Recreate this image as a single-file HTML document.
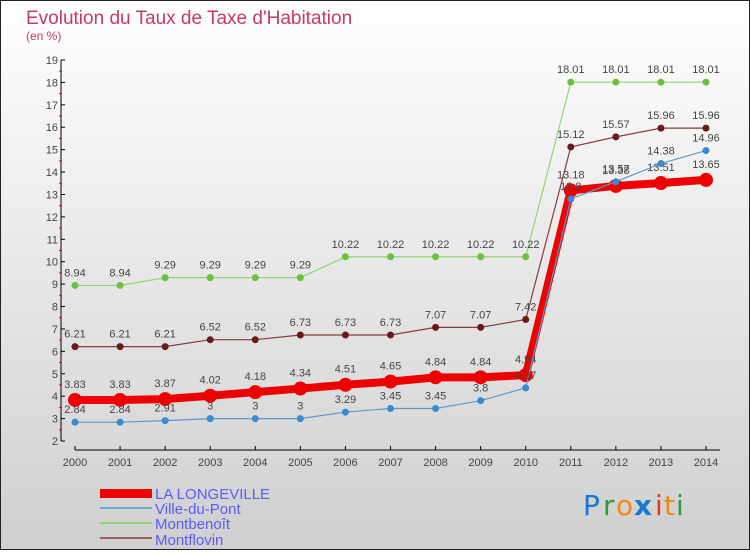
<!DOCTYPE html>
<html><head><meta charset="utf-8"><style>
body{margin:0;}
#c{width:750px;height:550px;position:relative;font-family:"Liberation Sans",sans-serif;}
</style></head><body>
<div id="c">
<svg id="s" width="750" height="550" xmlns="http://www.w3.org/2000/svg" font-family="Liberation Sans, sans-serif">
<defs><linearGradient id="bg" x1="0" y1="0" x2="0" y2="1"><stop offset="0" stop-color="#ffffff"/><stop offset="1" stop-color="#cfcfcf"/></linearGradient></defs>
<rect x="0.5" y="0.5" width="749" height="549" fill="url(#bg)" stroke="#222"/>
<text x="26" y="24" font-size="19" fill="#c8386a">Evolution du Taux de Taxe d'Habitation</text>
<text x="26" y="40" font-size="12" fill="#c8386a">(en %)</text>
<g id="axes"></g><g id="series"></g>
<g>
<rect x="100" y="489" width="52" height="9" fill="#ee0000"/>
<text x="155" y="499" font-size="15" fill="#5a5aff">LA LONGEVILLE</text>
<rect x="100" y="507" width="52" height="2" fill="#6da6d4"/>
<text x="155" y="514" font-size="15" fill="#5a5aff">Ville-du-Pont</text>
<rect x="100" y="522" width="52" height="2" fill="#8fd870"/>
<text x="155" y="529" font-size="15" fill="#5a5aff">Montbenoît</text>
<rect x="100" y="537" width="52" height="2" fill="#9a6060"/>
<text x="155" y="545" font-size="15" fill="#5a5aff">Montflovin</text>
</g>
<g font-size="28" font-family="DejaVu Sans, sans-serif">
<text x="583" y="515" fill="#1a78d0">P</text><text x="603" y="515" fill="#2a9a3a">r</text><text x="616" y="515" fill="#f08a10">o</text><text x="634" y="515" fill="#1a78d0" font-weight="bold">x</text><text x="655" y="515" fill="#e03a10">i</text><text x="664" y="515" fill="#f08a10">t</text><text x="676" y="515" fill="#2a9a3a">i</text>
</g>
</svg>
</div>
<script>
const years=[2000,2001,2002,2003,2004,2005,2006,2007,2008,2009,2010,2011,2012,2013,2014];
const yTicks=[2,3,4,5,6,7,8,9,10,11,12,13,14,15,16,17,18,19];
const laLongeville=[3.83,3.83,3.87,4.02,4.18,4.34,4.51,4.65,4.84,4.84,4.94,13.18,13.38,13.51,13.65];
const villeDuPont=[2.84,2.84,2.91,3,3,3,3.29,3.45,3.45,3.8,4.37,12.8,13.57,14.38,14.96];
const montbenoit=[8.94,8.94,9.29,9.29,9.29,9.29,10.22,10.22,10.22,10.22,10.22,18.01,18.01,18.01,18.01];
const montflovin=[6.21,6.21,6.21,6.52,6.52,6.73,6.73,6.73,7.07,7.07,7.42,15.12,15.57,15.96,15.96];
const NS="http://www.w3.org/2000/svg";
const X=i=>75+i*(631/14);
const Y=v=>441-(v-2)*(381/17);
function mk(tag,attrs,parent){const e=document.createElementNS(NS,tag);for(const k in attrs)e.setAttribute(k,attrs[k]);parent.appendChild(e);return e;}
const ax=document.getElementById('axes');
let yl=mk('line',{x1:61,y1:Y(19),x2:61,y2:Y(2),stroke:'#000'},ax);


yTicks.forEach(t=>{
 mk('line',{x1:61,x2:65,y1:Y(t),y2:Y(t),stroke:'#000'},ax);
 if(t<19)mk('line',{x1:59,x2:62,y1:Y(t+0.5),y2:Y(t+0.5),stroke:'#f00'},ax);
 const tx=mk('text',{x:58,y:Y(t)+4,'text-anchor':'end','font-size':11,fill:'#444'},ax);
 tx.textContent=t;
 
 
});
let xl=mk('line',{x1:75,y1:450,x2:720,y2:450,stroke:'#000'},ax);


years.forEach((y,i)=>{
 mk('line',{x1:X(i),x2:X(i),y1:446,y2:450,stroke:'#000'},ax);
 const tx=mk('text',{x:X(i),y:466,'text-anchor':'middle','font-size':11,fill:'#444'},ax);
 tx.textContent=y;
 
 
});
const sg=document.getElementById('series');
function series(vals,name,color,dot,w,r,labelDy){
 const g=mk('g',{},sg);
 
 
 const pl=mk('polyline',{points:vals.map((v,i)=>X(i)+','+Y(v)).join(' '),fill:'none',stroke:color,'stroke-width':w},g);
 
 
 vals.forEach((v,i)=>{
  const c=mk('circle',{cx:X(i),cy:Y(v),r:r,fill:dot},g);
  
  
  const t=mk('text',{x:X(i),y:Y(v)+labelDy,'text-anchor':'middle','font-size':11,fill:'#444'},g);
  t.textContent=String(v);
  
  
 });
}
series(montbenoit,'montbenoit','#8fd870','#6cc040',1.2,3.5,-9);
series(montflovin,'montflovin','#8a3a3a','#6a1a1a',1.2,3.5,-9);
series(laLongeville,'la-longeville','#ee0000','#ee0000',8,7,-12);
series(villeDuPont,'ville-du-pont','#5a9ad0','#3a8ad0',1.2,3.5,-9);
</script>
</body></html>
